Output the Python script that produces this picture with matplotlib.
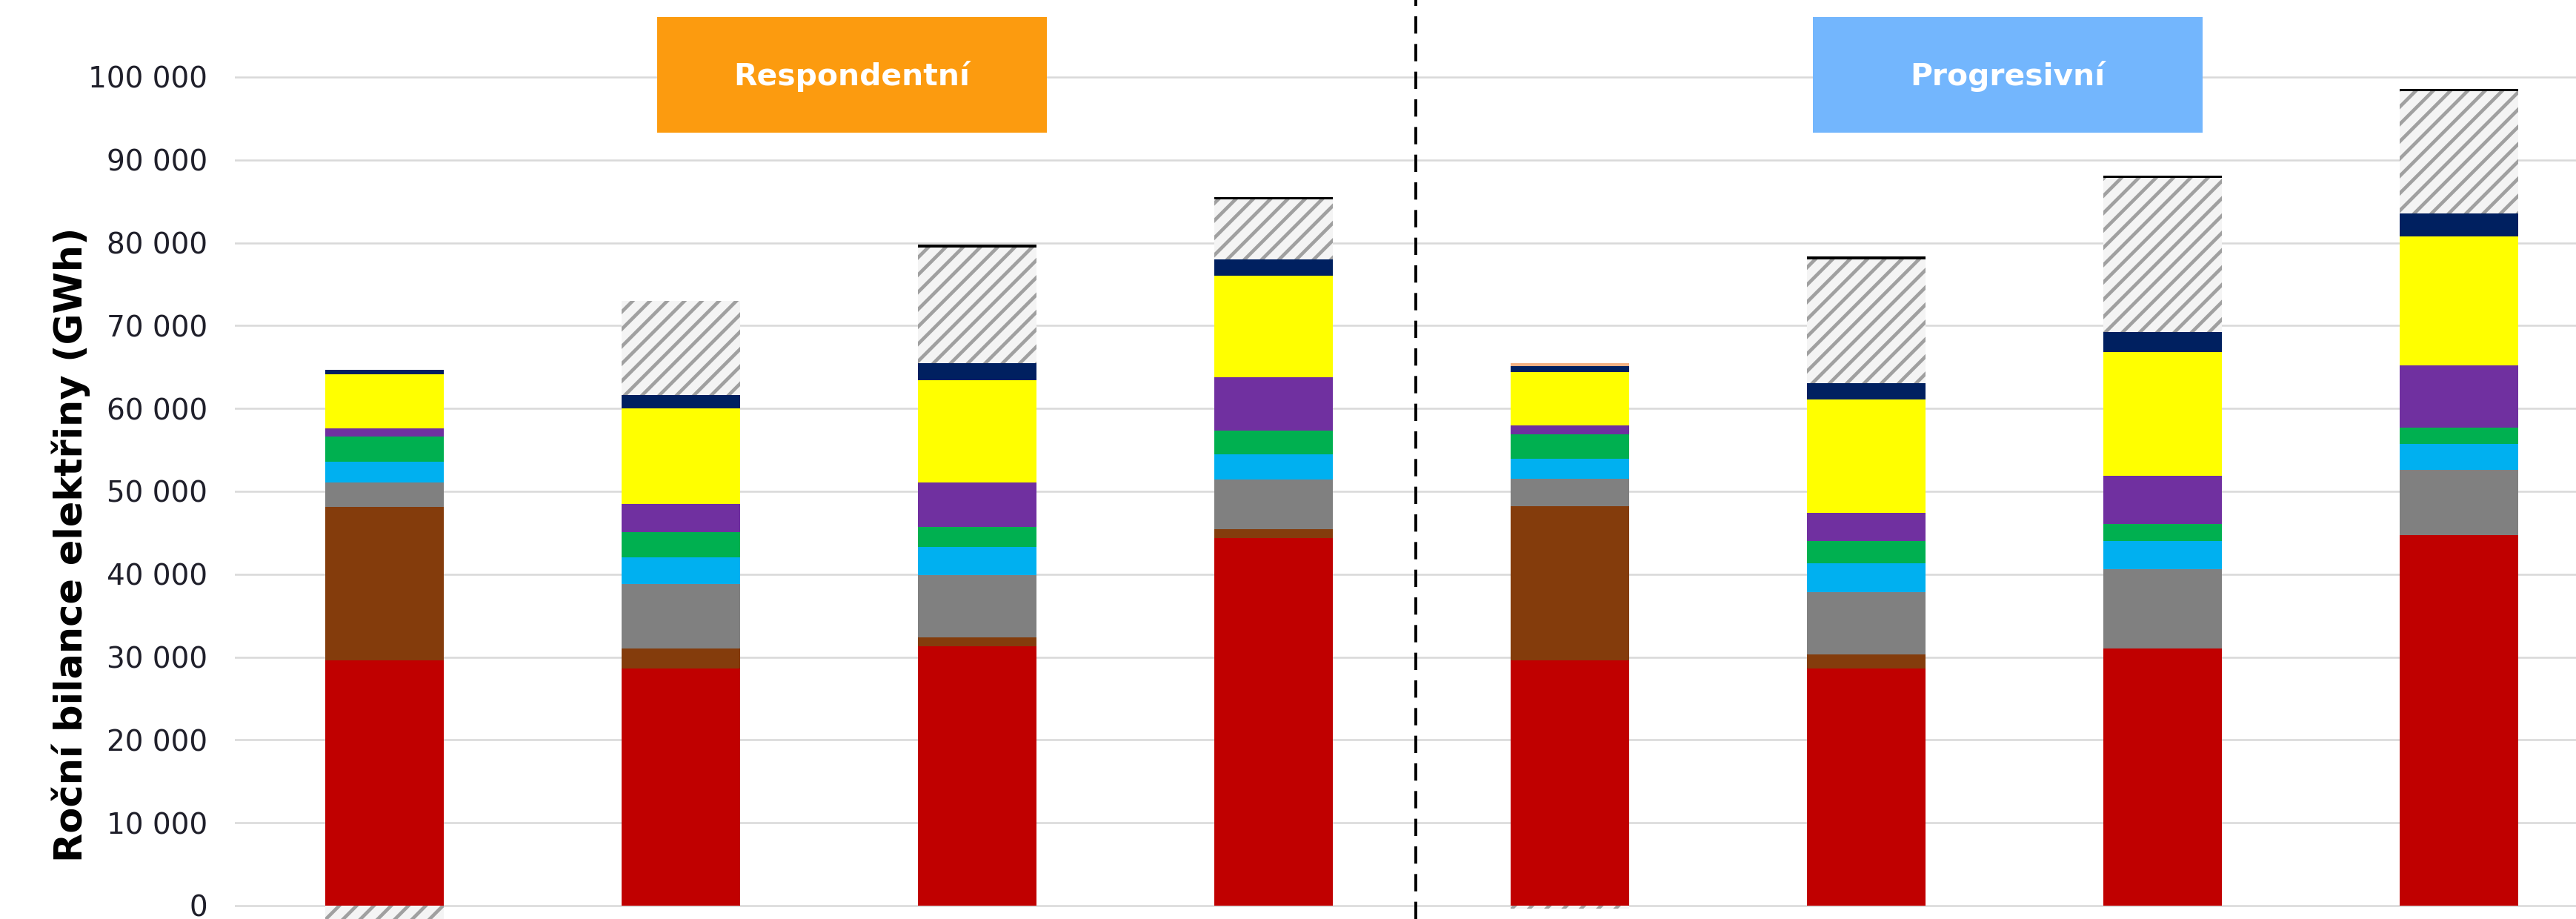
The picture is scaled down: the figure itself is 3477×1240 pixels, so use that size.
import numpy as np
import matplotlib
matplotlib.use("Agg")
import matplotlib.pyplot as plt
from matplotlib.patches import Rectangle
from matplotlib.ticker import FuncFormatter, MultipleLocator

# Roční bilance elektřiny (GWh), 4 sloupce Respondentní + 4 Progresivní
red = [29600, 28600, 31300, 44400, 29600, 28600, 31000, 44700]
brown = [18500, 2400, 1100, 1000, 18600, 1700, 0, 0]
grey = [3000, 7800, 7500, 6000, 3300, 7500, 9600, 7900]
cyan = [2500, 3200, 3400, 3100, 2400, 3500, 3400, 3100]
green = [3000, 3100, 2400, 2800, 3000, 2700, 2100, 2000]
purple = [1000, 3400, 5400, 6500, 1100, 3400, 5800, 7500]
yellow = [6500, 11500, 12300, 12200, 6400, 13700, 14900, 15600]
navy = [600, 1600, 2100, 2000, 700, 2000, 2400, 2700]
peach = [0, 0, 0, 0, 400, 0, 0, 0]
hatched = [0, 11400, 13900, 7200, 0, 14900, 18600, 14800]
black = [0, 0, 350, 300, 0, 350, 300, 300]
hatched_neg = [-2500, 0, 0, 0, -400, 0, 0, 0]

groups = ["Respondentní", "Progresivní"]
group_colors = ["#FC9B0F", "#73B6FD"]

solid_series = [
    (red, "#C00000"),
    (brown, "#843C0C"),
    (grey, "#808080"),
    (cyan, "#00B0F0"),
    (green, "#00B050"),
    (purple, "#7030A0"),
    (yellow, "#FFFF00"),
    (navy, "#002060"),
    (peach, "#F4B183"),
]

DPI = 140
W, H = 3477, 1240
plt.rcParams["hatch.linewidth"] = 2.4

fig = plt.figure(figsize=(W / DPI, H / DPI), dpi=DPI)
ax = fig.add_axes([317 / W, 0, 1 - 317 / W, 1])

x = np.arange(len(red))
width = 0.40
bottom = np.zeros(len(x))

for values, color in solid_series:
    ax.bar(x, values, width, bottom=bottom, color=color, linewidth=0, zorder=3)
    bottom += np.array(values)

# rozdíl (šrafovaně) a tenká černá čára nahoře
ax.bar(x, hatched, width, bottom=bottom, facecolor="#f4f4f4",
       edgecolor="#a0a0a0", hatch="//", linewidth=0, zorder=3)
bottom += np.array(hatched)
ax.bar(x, black, width, bottom=bottom, color="black", linewidth=0, zorder=3)
ax.bar(x, hatched_neg, width, facecolor="#f4f4f4",
       edgecolor="#a0a0a0", hatch="//", linewidth=0, zorder=3)

ax.set_xlim(-0.505, 7.395)
ax.set_ylim(-1610, 109300)
ax.yaxis.set_major_locator(MultipleLocator(10000))
ax.yaxis.set_major_formatter(FuncFormatter(lambda v, p: f"{int(v):,}".replace(",", " ")))
ax.set_yticks([t for t in range(0, 100001, 10000)])
ax.tick_params(axis="y", length=0, pad=19, labelsize=20, labelcolor="#1f1f2a")
ax.set_xticks([])
ax.grid(axis="y", color="#d9d9d9", linewidth=1.3, zorder=0)
for s in ax.spines.values():
    s.set_visible(False)

# svislá přerušovaná čára mezi scénáři
ax.axvline(3.48, color="black", linewidth=2.0, linestyle=(0, (6.0, 3.6)), zorder=4)

# hlavičky scénářů
for i, (name, col) in enumerate(zip(groups, group_colors)):
    left = 0.92 + 3.9 * i
    ax.add_patch(Rectangle((left, 93300), 1.315, 13900, facecolor=col,
                           edgecolor="none", zorder=5))
    ax.text(left + 1.315 / 2, 100100, name, ha="center", va="center",
            color="white", fontsize=21, fontweight="bold", zorder=6)

# popisek osy y, velikost písma dorovnaná na délku ~858 px
ylab = fig.text(96 / W, 1 - 735 / H, "Roční bilance elektřiny (GWh)",
                rotation=90, ha="center", va="center", fontweight="bold",
                fontsize=30, family=["Liberation Sans Narrow", "DejaVu Sans"])
fig.canvas.draw()
ext = ylab.get_window_extent(fig.canvas.get_renderer())
ylab.set_fontsize(30 * 858 / ext.height)

fig.savefig("out.png", dpi=DPI)
